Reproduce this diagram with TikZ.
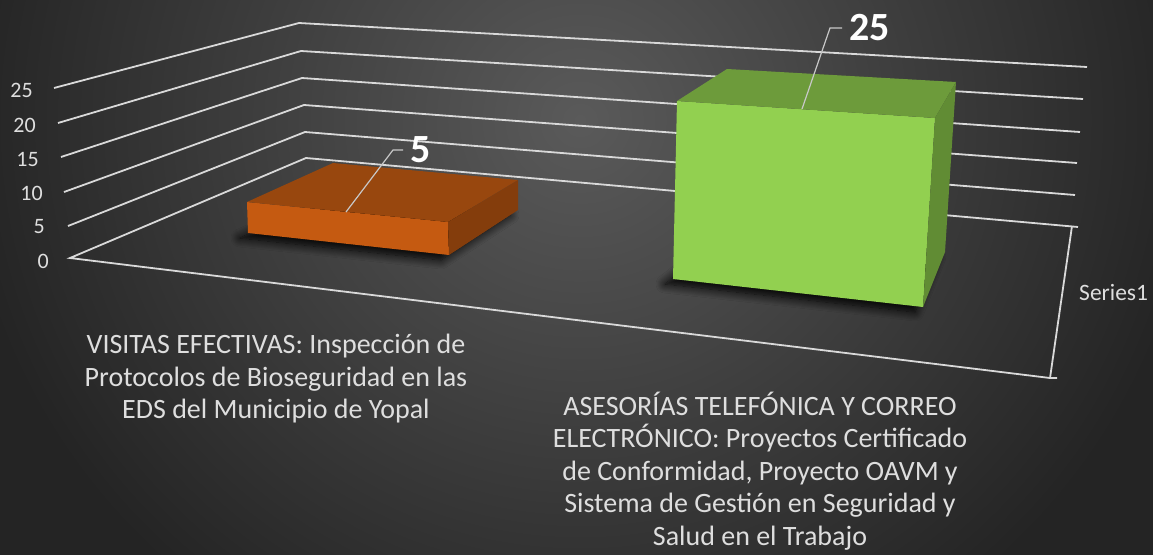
\documentclass[tikz,border=0pt]{standalone}
\usepackage{fontspec}
\setmainfont{Carlito}
\usetikzlibrary{calc, shadows.blur}

\definecolor{bgin}{RGB}{90,90,90}
\definecolor{bgout}{RGB}{36,36,36}
\definecolor{gridcol}{RGB}{217,217,217}
\definecolor{leadcol}{RGB}{200,200,200}
\definecolor{labcol}{RGB}{222,222,222}
\definecolor{orfront}{RGB}{197,90,17}
\definecolor{ortop}{RGB}{152,71,14}
\definecolor{orside}{RGB}{132,61,12}
\definecolor{grfront}{RGB}{146,208,80}
\definecolor{grtop}{RGB}{109,155,59}
\definecolor{grside}{RGB}{97,140,52}

\begin{document}
\begin{tikzpicture}[x=1pt,y=-1pt,
    gridline/.style={draw=gridcol, line width=1.8pt},
    leader/.style={draw=leadcol, line width=1.2pt},
    ticklab/.style={font=\fontsize{22}{26}\selectfont, text=labcol, anchor=east, inner sep=0pt},
    catlab/.style={font=\fontsize{28}{32.5}\selectfont, text=labcol, align=center, inner sep=0pt},
    datalab/.style={font=\fontsize{40}{48}\selectfont\bfseries, text=white, anchor=west, inner sep=0pt, inner xsep=7pt},
    footshadow/.style={blur shadow={shadow xshift=-8pt, shadow yshift=-5pt, shadow blur radius=9pt, shadow blur steps=12, shadow opacity=100}}]
      \useasboundingbox (0,0) rectangle (1153,554);
      \clip (0,0) rectangle (1153,554);
      \shade[inner color=bgin, outer color=bgout] (-40,-480) rectangle (1200,720);

      % walls and floor
      \coordinate (L25) at (54,88);  \coordinate (K25) at (299,23);  \coordinate (R25) at (1087,67);
      \coordinate (L20) at (58,123); \coordinate (K20) at (301,51);  \coordinate (R20) at (1083,99);
      \coordinate (L15) at (61,157); \coordinate (K15) at (302,78);  \coordinate (R15) at (1080,132);
      \coordinate (L10) at (64,192); \coordinate (K10) at (304,105); \coordinate (R10) at (1077,163);
      \coordinate (L5) at (68,226);  \coordinate (K5) at (305,132);  \coordinate (R5) at (1075,195);
      \coordinate (L0) at (70,258);  \coordinate (K0) at (306,158);  \coordinate (R0) at (1078,227);
      \coordinate (B0) at (1072,226); \coordinate (F0) at (1050,378);

      \draw[gridline] (L25)--(K25)--(R25);
      \draw[gridline] (L20)--(K20)--(R20);
      \draw[gridline] (L15)--(K15)--(R15);
      \draw[gridline] (L10)--(K10)--(R10);
      \draw[gridline] (L5)--(K5)--(R5);
      \draw[gridline] (R0)--(K0)--(L0)--(F0)--($(F0)+(7,0)$);
      \draw[gridline] (B0)--(F0);

      \node[ticklab] (t25) at (33,90) {25};
      \node[ticklab] (t20) at (36,125) {20};
      \node[ticklab] (t15) at (39,159) {15};
      \node[ticklab] (t10) at (43,193) {10};
      \node[ticklab] (t5) at (45,227) {5};
      \node[ticklab] (t0) at (49,261) {0};

      % orange bar
      \coordinate (O1) at (247,202); \coordinate (O2) at (448,222);
      \coordinate (O3) at (449,255); \coordinate (O4) at (248,233);
      \coordinate (O5) at (333,163); \coordinate (O6) at (518,180);
      \coordinate (O7) at (518,210); \coordinate (O8) at (333,194);
      \path[footshadow] (O4)--(O3)--(O7)--(O8)--cycle;
      \fill[orfront] (O1)--(O2)--(O3)--(O4)--cycle;
      \fill[ortop] (O1)--(O5)--(O6)--(O2)--cycle;
      \fill[orside] (O2)--(O6)--(O7)--(O3)--cycle;

      % green bar
      \coordinate (G1) at (677,101); \coordinate (G2) at (935,118);
      \coordinate (G3) at (923,307); \coordinate (G4) at (673,279);
      \coordinate (G5) at (727,69);  \coordinate (G6) at (956,82);
      \coordinate (G7) at (945,252); \coordinate (G8) at (722,240);
      \path[footshadow] (G4)--(G3)--(G7)--(G8)--cycle;
      \fill[grfront] (G1)--(G2)--(G3)--(G4)--cycle;
      \fill[grtop] (G1)--(G5)--(G6)--(G2)--cycle;
      \fill[grside] (G2)--(G6)--(G7)--(G3)--cycle;

      % data labels
      \coordinate (oa) at (346,212); \coordinate (ob) at (393,150);
      \node[datalab] (lab5) at (403,150) {5};
      \draw[leader] (oa)--(ob)--(lab5.west);
      \coordinate (ga) at (802,109); \coordinate (gb) at (830,28);
      \node[datalab] (lab25) at (842,28) {25};
      \draw[leader] (ga)--(gb)--(lab25.west);

      \node[catlab] (cat1) at (276,379) {VISITAS EFECTIVAS: Inspección de\\Protocolos de Bioseguridad en las\\EDS del Municipio de Yopal};
      \node[catlab] (cat2) at (760,471) {ASESORÍAS TELEFÓNICA Y CORREO\\ELECTRÓNICO: Proyectos Certificado\\de Conformidad, Proyecto OAVM y\\Sistema de Gestión en Seguridad y\\Salud en el Trabajo};
      \node[font=\fontsize{23.5}{28}\selectfont, text=labcol, anchor=west, inner sep=0pt] (ser) at (1079,292) {Series1};
    \end{tikzpicture}
\end{document}
